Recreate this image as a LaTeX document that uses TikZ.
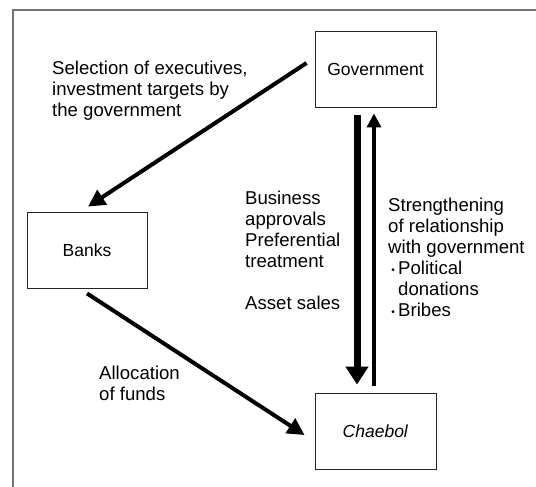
\documentclass[tikz,border=0pt]{standalone}
\usepackage{fontspec}
\setmainfont{Liberation Sans}
\usetikzlibrary{arrows.meta,calc}
\newcommand{\mybul}{\makebox[10pt][c]{\raisebox{1.6pt}{\fontsize{10}{10}\selectfont •}}}
\begin{document}
\begin{tikzpicture}[x=1pt,y=1pt,
  txt/.style={font=\fontsize{17.5}{21}\selectfont},
  box/.style={txt, draw=black!85, line width=0.9pt, minimum width=121pt, minimum height=76pt, inner sep=0pt},
  lbl/.style={font=\fontsize{18.6}{21}\selectfont, anchor=north west, inner sep=0pt, align=left},
  conn/.style={line width=4pt, -{Triangle[width=17pt,length=17pt]}},
  thickarr/.style={line width=7pt, -{Triangle[width=22pt,length=18pt]}},
  thinarr/.style={line width=3.5pt, -{Triangle[width=14pt,length=14pt]}},
  frame/.style={draw=black!55, line width=1.5pt}
]
\useasboundingbox (0,0) rectangle (536,487);
\draw[frame] (13,0) -- (13,477) -- (536,477);

\node[box] (gov) at (375.5,418) {Government};
\node[box] (chaebol) at (375.5,56) {\textit{Chaebol}};
\node[box, minimum width=120pt] (banks) at (87,237) {Banks};

\draw[conn] ([shift={(-8,6)}]gov.west) -- ([shift={(1,5)}]banks.north);
\draw[conn] ([yshift=-5pt]banks.south) -- ([shift={(-10,-4)}]chaebol.west);
\draw[thickarr] ([shift={(-18.5,-8)}]gov.south) -- ([shift={(-18.5,8)}]chaebol.north);
\draw[thinarr] ([shift={(-1.5,7)}]chaebol.north) -- ([shift={(-1.5,-6)}]gov.south);

\node[lbl] (sel) at (52,426) {Selection of executives,\\investment targets by\\the government};
\node[lbl] (bus) at (245,296) {Business\\approvals\\Preferential\\treatment\\[21pt]Asset sales};
\node[lbl] (str) at (388,289) {Strengthening\\of relationship\\with government\\\mybul Political\\\hspace*{10pt}donations\\\mybul Bribes};
\node[lbl] (alloc) at (99,121) {Allocation\\of funds};
\end{tikzpicture}
\end{document}
